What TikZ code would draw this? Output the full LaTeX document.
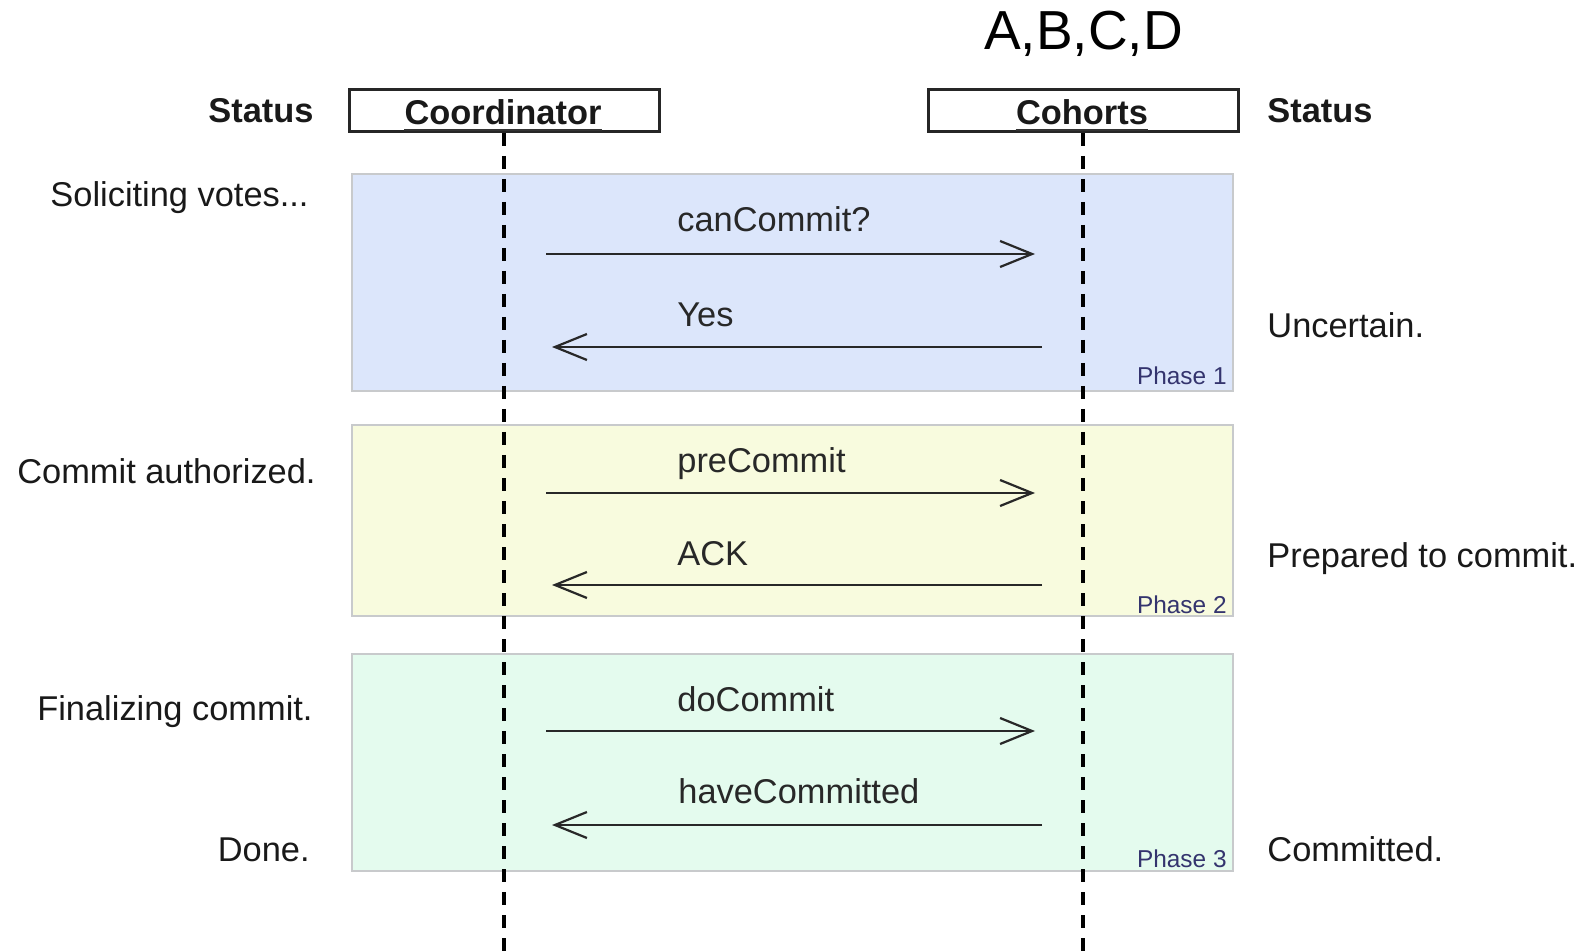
\documentclass[tikz,border=0pt]{standalone}
\usepackage{fontspec}
\setmainfont{Liberation Sans}
\usetikzlibrary{arrows.meta}

\definecolor{phaseblue}{RGB}{220,230,251}
\definecolor{phaseyellow}{RGB}{248,251,222}
\definecolor{phasegreen}{RGB}{228,251,238}
\definecolor{phaseedge}{RGB}{200,202,204}
\definecolor{phaseink}{RGB}{52,52,110}
\definecolor{msgink}{RGB}{40,40,40}

\tikzset{
  txt/.style={inner sep=0pt, font=\fontsize{17.2}{20}\selectfont, text=black!90},
  boldtxt/.style={txt, font=\fontsize{17.2}{20}\selectfont\bfseries},
  bigtxt/.style={inner sep=0pt, font=\fontsize{27.5}{32}\selectfont},
  headbox/.style={draw=black!85, line width=1.5pt, fill=white, minimum width=155pt, minimum height=21pt, inner sep=0pt},
  phasebox/.style={draw=phaseedge, line width=0.6pt},
  phasetag/.style={inner sep=0pt, anchor=base east, text=phaseink, font=\fontsize{12.2}{14}\selectfont},
  lifeline/.style={line width=1.6pt, dash pattern=on 6.5pt off 5pt, black},
  msg/.style={draw=msgink, line width=1.1pt, -{Straight Barb[length=16pt,width=13pt,line width=1.1pt]}},
  msglbl/.style={txt, anchor=base west, text=msgink}
}

\begin{document}
\begin{tikzpicture}[x=0.5pt,y=-0.5pt]
  \useasboundingbox (0,0) rectangle (1588,951);
  \coordinate (bottom) at (0,951);

  % phase backgrounds
  \filldraw[phasebox, fill=phaseblue]   (352,174) rectangle (1233,391);
  \filldraw[phasebox, fill=phaseyellow] (352,425) rectangle (1233,616);
  \filldraw[phasebox, fill=phasegreen]  (352,654) rectangle (1233,871);
  \node[phasetag] (ph1) at (1227,385) {Phase 1};
  \node[phasetag] (ph2) at (1227,613) {Phase 2};
  \node[phasetag] (ph3) at (1227,867) {Phase 3};

  % participants
  \node[headbox] (coordbox) at (504.5,111) {};
  \node[headbox] (cohbox) at (1083.5,111) {};
  \node[boldtxt, anchor=base] (coordlbl) at (503,125) {Coordinator};
  \node[boldtxt, anchor=base] (cohlbl) at (1082,125) {Cohorts};
  \draw[line width=1pt, black!80] ([yshift=-2.5pt]coordlbl.base west) -- ([yshift=-2.5pt]coordlbl.base east);
  \draw[line width=1pt, black!80] ([yshift=-2.5pt]cohlbl.base west) -- ([yshift=-2.5pt]cohlbl.base east);
  \node[bigtxt, anchor=base] (abcd) at (1083.5,50) {A,B,C,D};

  % lifelines
  \draw[lifeline] (504,133) coordinate (llc) -- (llc |- bottom);
  \draw[lifeline] (1083,133) coordinate (llh) -- (llh |- bottom);

  % status columns
  \node[boldtxt, anchor=base east] (stl) at (314,123) {Status};
  \node[boldtxt, anchor=base west] (str) at (1267,123) {Status};
  \node[txt, anchor=base east] (s1) at (309,207) {Soliciting votes...};
  \node[txt, anchor=base east] (s2) at (316,483) {Commit authorized.};
  \node[txt, anchor=base east] (s3) at (313,720) {Finalizing commit.};
  \node[txt, anchor=base east] (s4) at (310,861) {Done.};
  \node[txt, anchor=base west] (r1) at (1267,338) {Uncertain.};
  \node[txt, anchor=base west] (r2) at (1267,567) {Prepared to commit.};
  \node[txt, anchor=base west] (r3) at (1267,861) {Committed.};

  % messages
  \coordinate (m1a) at (546,254);  \coordinate (m1b) at (1035,254);
  \coordinate (m2a) at (1042,347); \coordinate (m2b) at (552,347);
  \coordinate (m3a) at (546,493);  \coordinate (m3b) at (1035,493);
  \coordinate (m4a) at (1042,585); \coordinate (m4b) at (552,585);
  \coordinate (m5a) at (546,731);  \coordinate (m5b) at (1035,731);
  \coordinate (m6a) at (1042,825); \coordinate (m6b) at (552,825);
  \draw[msg] (m1a) -- (m1b);
  \draw[msg] (m2a) -- (m2b);
  \draw[msg] (m3a) -- (m3b);
  \draw[msg] (m4a) -- (m4b);
  \draw[msg] (m5a) -- (m5b);
  \draw[msg] (m6a) -- (m6b);
  \node[msglbl] (l1) at (677,232) {canCommit?};
  \node[msglbl] (l2) at (677,327) {Yes};
  \node[msglbl] (l3) at (677,473) {preCommit};
  \node[msglbl] (l4) at (677,565) {ACK};
  \node[msglbl] (l5) at (677,711) {doCommit};
  \node[msglbl] (l6) at (678,803) {haveCommitted};
\end{tikzpicture}
\end{document}
